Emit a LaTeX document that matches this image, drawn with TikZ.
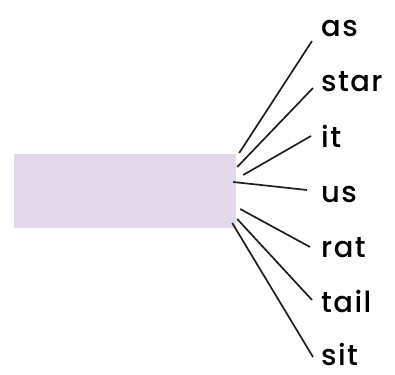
\documentclass[tikz,border=0pt]{standalone}
\usepackage{fontspec}
\setmainfont{Poppins}[UprightFont={* Medium},LetterSpace=5]
\usepackage{xcolor}
\usepackage{tikz}
\definecolor{lilac}{RGB}{227,216,235}

\begin{document}
\begin{tikzpicture}[x=1pt,y=-1pt,
        box/.style={fill=lilac,minimum width=222pt,minimum height=74pt,inner sep=0pt},
        word/.style={anchor=base west,inner sep=0pt,font=\fontsize{29}{33}\selectfont},
        spoke/.style={line width=1.7pt,black!88}]
        \useasboundingbox (0,0) rectangle (395,374);
        \node[box] (box) at (125,191) {};
        \node[word] (as) at (321,37) {as};
        \node[word] (star) at (321,92) {star};
        \node[word] (it) at (321,147) {it};
        \node[word] (us) at (321,202) {us};
        \node[word] (rat) at (321,257) {rat};
        \node[word] (tail) at (321,312) {tail};
        \node[word] (sit) at (321,365) {sit};
        \draw[spoke] ([shift={(3,-38)}]box.east) -- ([shift={(-9,4)}]as.base west);
        \draw[spoke] ([shift={(1,-24)}]box.east) -- ([shift={(-8,-4)}]star.base west);
        \draw[spoke] ([shift={(7,-16)}]box.east) -- ([shift={(-10,-11)}]it.base west);
        \draw[spoke] ([shift={(-3,-9)}]box.east) -- ([shift={(-14,-12)}]us.base west);
        \draw[spoke] ([shift={(4,18)}]box.east) -- ([shift={(-11,-10)}]rat.base west);
        \draw[spoke] ([shift={(1,28)}]box.east) -- ([shift={(-9,-12)}]tail.base west);
        \draw[spoke] ([shift={(-4,32)}]box.east) -- ([shift={(-8,-8)}]sit.base west);
\end{tikzpicture}
\end{document}
